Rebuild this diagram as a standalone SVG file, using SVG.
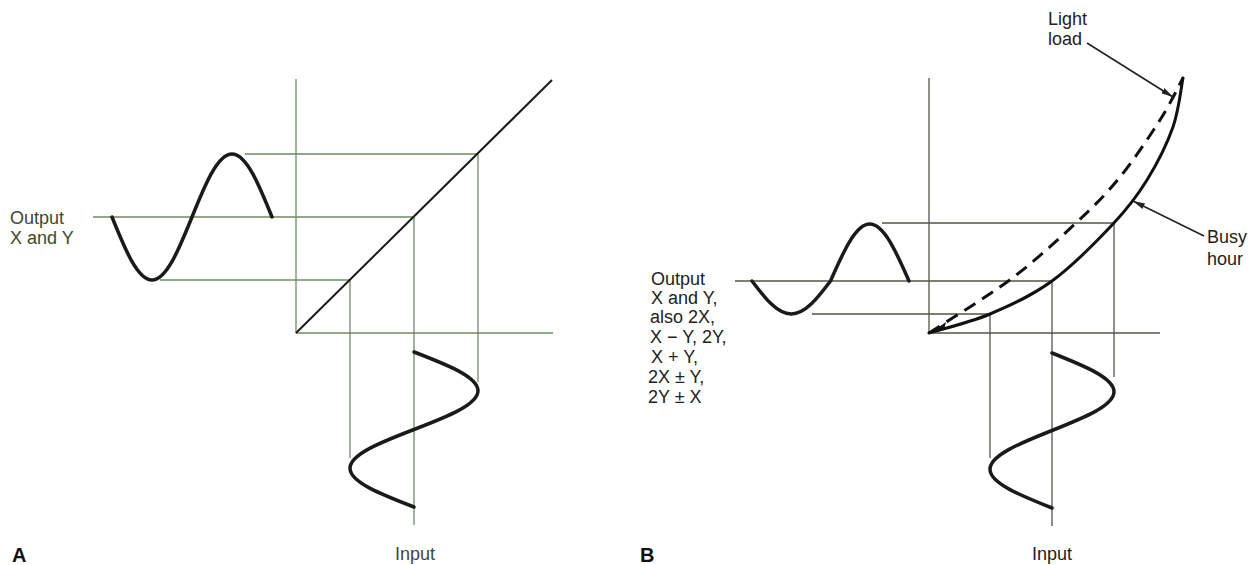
<svg xmlns="http://www.w3.org/2000/svg" width="1259" height="565" viewBox="0 0 1259 565">
<defs>
<style>
.gA{stroke:#6f8a66;stroke-width:1.3;fill:none}
.gB{stroke:#4e5649;stroke-width:1.3;fill:none}
.wave{stroke:#1a1a1a;stroke-width:3.5;fill:none;stroke-linecap:round;stroke-linejoin:round}
.curve{stroke:#111;stroke-width:3;fill:none;stroke-linecap:round}
.dash{stroke:#111;stroke-width:3;fill:none;stroke-dasharray:13 8}
.lead{stroke:#222;stroke-width:1.6;fill:none}
.t{font-family:"Liberation Sans",Arial,sans-serif;font-size:18px}
.tA{fill:#3b4a2e}
.tB{fill:#222}
.lbl{font-family:"Liberation Sans",Arial,sans-serif;font-size:20px;font-weight:bold;fill:#111}
</style>
<marker id="ah" viewBox="0 0 12 6" refX="12" refY="3" markerWidth="12" markerHeight="6" markerUnits="userSpaceOnUse" orient="auto">
<path d="M0,0 L12,3 L0,6 Z" fill="#222"/>
</marker>
</defs>
<rect width="1259" height="565" fill="#fff"/>

<g id="panelA">
<g id="A-grid">
<line class="gA" x1="296" y1="79" x2="296" y2="333"/>
<line class="gA" x1="296" y1="333" x2="553" y2="333"/>
<line class="gA" x1="245" y1="154" x2="478" y2="154"/>
<line class="gA" x1="93" y1="217" x2="414" y2="217"/>
<line class="gA" x1="160" y1="280" x2="350" y2="280"/>
<line class="gA" x1="350" y1="280" x2="350" y2="458"/>
<line class="gA" x1="414" y1="217" x2="414" y2="525"/>
<line class="gA" x1="478" y1="154" x2="478" y2="382"/>
</g>
<g id="A-transfer">
<line x1="296" y1="333" x2="552" y2="80" stroke="#1a1a1a" stroke-width="2"/>
</g>
<g id="A-output-wave">
<path class="wave" d="M112,217 C125,249.3 137.6,280 152,280 C166.4,280 179,249.3 192,217 C205,184.7 217.6,154 232,154 C246.4,154 259,184.7 272,217"/>
</g>
<g id="A-input-wave">
<path class="wave" d="M414,352 C446.8,364.6 478,376.8 478,390.75 C478,404.7 446.8,416.9 414,429.5 C381.2,442.1 350,454.3 350,468.25 C350,482.2 381.2,494.4 414,507"/>
</g>
<g id="A-labels">
<text class="t tA" x="10" y="224">Output</text>
<text class="t tA" x="10" y="244">X and Y</text>
<text class="t tA" x="415" y="560" text-anchor="middle">Input</text>
<text class="lbl" x="12" y="562">A</text>
</g>
</g>

<g id="panelB">
<g id="B-grid">
<line class="gB" x1="929" y1="78" x2="929" y2="333"/>
<line class="gB" x1="929" y1="333" x2="1160" y2="333"/>
<line class="gB" x1="882" y1="223" x2="1114" y2="223"/>
<line class="gB" x1="735" y1="281" x2="1052" y2="281"/>
<line class="gB" x1="812" y1="314" x2="990" y2="314"/>
<line class="gB" x1="990" y1="314" x2="990" y2="458"/>
<line class="gB" x1="1052" y1="281" x2="1052" y2="526"/>
<line class="gB" x1="1114" y1="223" x2="1114" y2="377"/>
</g>
<g id="B-busy-hour-curve">
<path class="curve" d="M929,333 C939.2,329.8 969.5,322.7 990,314 C1010.5,305.3 1031.5,296 1052,281 C1072.5,266 1097.2,240.8 1113,224 C1128.8,207.2 1137,196.2 1147,180 C1157,163.8 1167,144 1173,127 C1179,110 1181.3,86.2 1183,78"/>
</g>
<g id="B-light-load-curve">
<path class="dash" d="M929,333 C942.7,324 986.3,297.5 1011,279 C1035.7,260.5 1058.8,239 1077,222 C1095.2,205 1106.2,194 1120,177 C1133.8,160 1149.5,136.5 1160,120 C1170.5,103.5 1179.2,85 1183,78"/>
<path d="M929,334 L946,322 L944,330 Z" fill="#111"/>
</g>
<g id="B-output-wave">
<path class="wave" d="M752,281 C764.8,297.9 777.1,314 791.25,314 C805.4,314 817.7,297.9 830.5,281 C843.3,251.8 855.6,224 869.75,224 C883.9,224 896.2,251.8 909,281"/>
</g>
<g id="B-input-wave">
<path class="wave" d="M1052,353 C1083.7,365.6 1114,377.8 1114,391.75 C1114,405.7 1083.7,417.9 1052,430.5 C1020.3,443.1 990,455.3 990,469.25 C990,483.2 1020.3,495.4 1052,508"/>
</g>
<g id="B-leaders">
<line class="lead" x1="1087" y1="43" x2="1173" y2="97" marker-end="url(#ah)"/>
<line class="lead" x1="1204" y1="236" x2="1133" y2="201" marker-end="url(#ah)"/>
</g>
<g id="B-labels">
<text class="t tB" x="1048" y="25">Light</text>
<text class="t tB" x="1048" y="45">load</text>
<text class="t tB" x="1207" y="243">Busy</text>
<text class="t tB" x="1207" y="265">hour</text>
<text class="t tB" x="651" y="285">Output</text>
<text class="t tB" x="651" y="304">X and Y,</text>
<text class="t tB" x="650" y="323">also 2X,</text>
<text class="t tB" x="650" y="343">X − Y, 2Y,</text>
<text class="t tB" x="651" y="363">X + Y,</text>
<text class="t tB" x="648" y="383">2X ± Y,</text>
<text class="t tB" x="648" y="403">2Y ± X</text>
<text class="t tB" x="1052" y="560" text-anchor="middle">Input</text>
<text class="lbl" x="640" y="562">B</text>
</g>
</g>
</svg>
